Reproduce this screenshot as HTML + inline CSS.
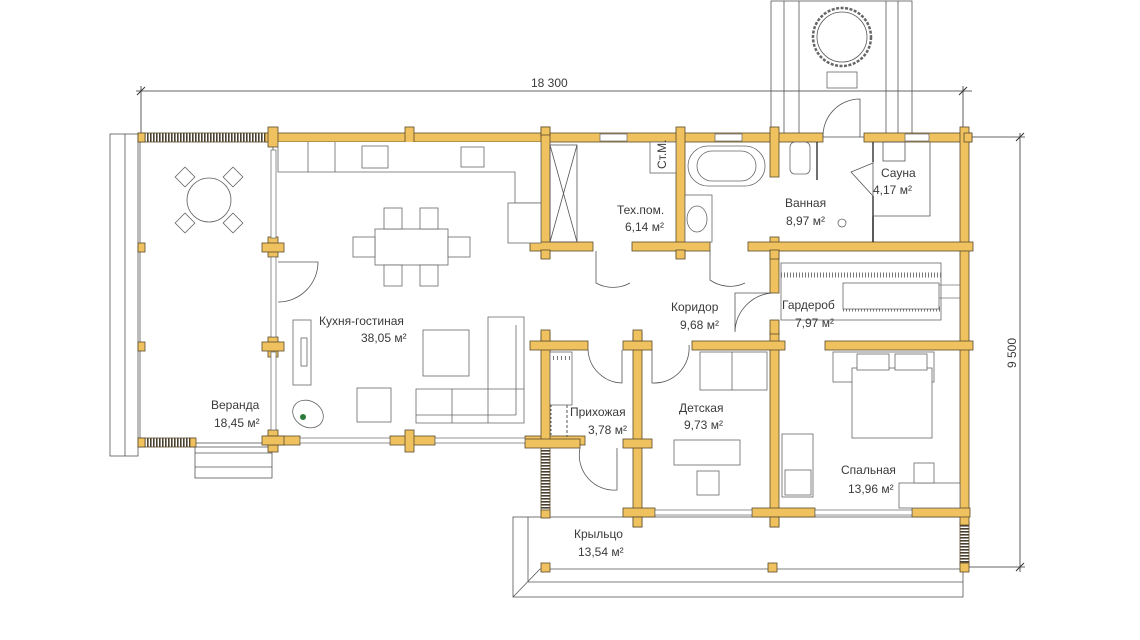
<!DOCTYPE html>
<html><head><meta charset="utf-8"><style>
html,body{margin:0;padding:0;background:#fff;}
svg{display:block;}
text{font-family:"Liberation Sans",sans-serif;fill:#3a3a3a;font-size:12px;}
.w{fill:#EFC25F;stroke:#5a4a2a;stroke-width:0.8;}
.l{fill:none;stroke:#555;stroke-width:0.8;}
.f{fill:#fff;stroke:#666;stroke-width:0.8;}
.win{fill:#fff;stroke:#666;stroke-width:0.7;}
</style></head><body>
<svg width="1140" height="640" viewBox="0 0 1140 640" xmlns="http://www.w3.org/2000/svg">
<defs>
<pattern id="rail" width="3" height="10" patternUnits="userSpaceOnUse"><rect width="3" height="10" fill="#fff"/><rect width="1.6" height="10" fill="#4a4030"/></pattern>
<pattern id="railv" width="10" height="3" patternUnits="userSpaceOnUse"><rect width="10" height="3" fill="#fff"/><rect width="10" height="1.6" fill="#4a4030"/></pattern>
</defs>

<!-- dimensions -->
<line x1="136" y1="91" x2="972" y2="91" stroke="#333" stroke-width="0.8"/>
<line x1="141" y1="86" x2="141" y2="137" stroke="#333" stroke-width="0.8"/>
<line x1="963" y1="86" x2="963" y2="130" stroke="#333" stroke-width="0.8"/>
<line x1="137" y1="95" x2="145" y2="87" stroke="#333"/>
<line x1="959" y1="95" x2="967" y2="87" stroke="#333"/>
<text x="531" y="87" font-size="12">18 300</text>
<line x1="1020" y1="133" x2="1020" y2="572" stroke="#333" stroke-width="0.8"/>
<line x1="968" y1="137" x2="1025" y2="137" stroke="#333" stroke-width="0.8"/>
<line x1="968" y1="567" x2="1025" y2="567" stroke="#333" stroke-width="0.8"/>
<line x1="1016" y1="141" x2="1024" y2="133" stroke="#333"/>
<line x1="1016" y1="571" x2="1024" y2="563" stroke="#333"/>
<text x="0" y="0" font-size="12" transform="translate(1016,368) rotate(-90)">9 500</text>

<!-- sauna outside deck -->
<rect x="771" y="1" width="141" height="136" class="l"/>
<line x1="784" y1="1" x2="784" y2="137" class="l"/>
<line x1="799" y1="1" x2="799" y2="137" class="l"/>
<line x1="886" y1="1" x2="886" y2="137" class="l"/>
<line x1="898" y1="1" x2="898" y2="137" class="l"/>
<circle cx="842" cy="37" r="29" fill="#fff" stroke="#666" stroke-width="2.5" stroke-dasharray="3 1.5"/>
<circle cx="842" cy="37" r="25" class="l"/>
<rect x="827" y="72" width="30" height="16" class="f"/>

<!-- veranda -->
<rect x="110" y="134" width="28" height="322" class="l"/>
<line x1="125" y1="134" x2="125" y2="456" class="l"/>
<rect x="140" y="137" width="133" height="306" class="l"/>
<rect x="138" y="133" width="130" height="9" fill="url(#rail)" stroke="#5a4a2a" stroke-width="0.8"/>
<rect x="138" y="133" width="7" height="9" class="w"/>
<rect x="138" y="438" width="57" height="9" fill="url(#rail)" stroke="#5a4a2a" stroke-width="0.8"/>
<rect x="138" y="438" width="7" height="9" class="w"/>
<rect x="190" y="438" width="6" height="9" class="w"/>
<rect x="138" y="243" width="7" height="9" class="w"/>
<rect x="138" y="342" width="7" height="9" class="w"/>
<rect x="195" y="447" width="77" height="31" class="l"/>
<line x1="195" y1="453" x2="272" y2="453" class="l"/>
<line x1="195" y1="467" x2="272" y2="467" class="l"/>
<g>
<rect x="178" y="170" width="14" height="14" transform="rotate(45 185 177)" class="f"/>
<rect x="226" y="170" width="14" height="14" transform="rotate(45 233 177)" class="f"/>
<rect x="178" y="216" width="14" height="14" transform="rotate(45 185 223)" class="f"/>
<rect x="226" y="216" width="14" height="14" transform="rotate(45 233 223)" class="f"/>
</g>
<circle cx="209" cy="200" r="22" class="f"/>

<!-- porch -->
<rect x="513" y="517" width="450" height="80" class="l"/>
<line x1="528" y1="517" x2="528" y2="582" class="l"/>
<line x1="528" y1="582" x2="963" y2="582" class="l"/>
<line x1="540" y1="569" x2="963" y2="569" class="l"/>
<line x1="513" y1="597" x2="540" y2="569" class="l"/>

<!-- railings -->
<rect x="541" y="447" width="9" height="68" fill="url(#railv)" stroke="#5a4a2a" stroke-width="0.8"/>
<rect x="960" y="522" width="9" height="44" fill="url(#railv)" stroke="#5a4a2a" stroke-width="0.8"/>
<rect x="541" y="510" width="9" height="8" class="w"/>
<rect x="541" y="563" width="9" height="9" class="w"/>
<rect x="768" y="563" width="9" height="9" class="w"/>
<rect x="960" y="563" width="9" height="9" class="w"/>

<!-- walls -->
<g class="w">
<rect x="265" y="133" width="558" height="9"/>
<rect x="864" y="133" width="108" height="9"/>
<rect x="268" y="127" width="10" height="20"/>
<rect x="268" y="237" width="10" height="20"/>
<rect x="268" y="337" width="10" height="20"/>
<rect x="268" y="430" width="10" height="22"/>
<rect x="265" y="436" width="35" height="9"/>
<rect x="390" y="436" width="45" height="9"/>
<rect x="525" y="436" width="60" height="9"/>
<rect x="541" y="127" width="9" height="131"/>
<rect x="676" y="127" width="9" height="131"/>
<rect x="770" y="127" width="9" height="50"/>
<rect x="960" y="127" width="9" height="398"/>
<rect x="770" y="237" width="9" height="56"/>
<rect x="770" y="332" width="9" height="195"/>
<rect x="541" y="333" width="9" height="114"/>
<rect x="633" y="333" width="9" height="194"/>
<rect x="530" y="242" width="63" height="9"/>
<rect x="632" y="242" width="78" height="9"/>
<rect x="748" y="242" width="225" height="9"/>
<rect x="530" y="341" width="58" height="9"/>
<rect x="623" y="341" width="29" height="9"/>
<rect x="692" y="341" width="93" height="9"/>
<rect x="825" y="341" width="148" height="9"/>
<rect x="525" y="439" width="55" height="9"/>
<rect x="623" y="439" width="29" height="9"/>
<rect x="623" y="508" width="32" height="9"/>
<rect x="752" y="508" width="63" height="9"/>
<rect x="912" y="508" width="58" height="9"/>
<rect x="405" y="127" width="9" height="28"/>
<rect x="405" y="430" width="9" height="22"/>
<rect x="262" y="243" width="22" height="9"/>
<rect x="262" y="342" width="22" height="9"/>
<rect x="262" y="436" width="22" height="9"/>
<rect x="541" y="250" width="9" height="9"/>
<rect x="676" y="250" width="9" height="9"/>
<rect x="770" y="250" width="9" height="9"/>
<rect x="770" y="320" width="9" height="14"/>
<rect x="541" y="330" width="9" height="11"/>
<rect x="633" y="330" width="9" height="11"/>
<rect x="770" y="517" width="9" height="10"/>
<rect x="633" y="517" width="9" height="10"/>
<rect x="964" y="133" width="8" height="9"/>
<rect x="541" y="127" width="9" height="8"/>
</g>
<g class="win">
<rect x="600" y="134" width="27" height="7"/>
<rect x="715" y="134" width="27" height="7"/>
<rect x="905" y="134" width="24" height="7"/>
<rect x="271" y="150" width="5" height="88"/>
<rect x="271" y="257" width="5" height="80"/>
<rect x="271" y="352" width="5" height="78"/>
<rect x="300" y="438" width="90" height="5"/>
<rect x="435" y="438" width="90" height="5"/>
<rect x="655" y="510" width="97" height="5"/>
<rect x="815" y="510" width="97" height="5"/>
</g>
<!-- sauna partition -->
<line x1="873" y1="142" x2="873" y2="162" stroke="#222" stroke-width="1.5"/>
<line x1="873" y1="196" x2="873" y2="242" stroke="#222" stroke-width="1.5"/>
<path d="M873 163 L851 172 L873 196" class="l"/>
<path d="M873 142 L873 216 L930 216 L930 142" class="l"/>
<rect x="883" y="142" width="22" height="19" class="l"/>

<!-- doors -->
<g class="l">
<path d="M278 262 L318 262 A40 40 0 0 1 278 302"/>
<path d="M596 251 L596 283 A35 35 0 0 0 630 283"/>
<path d="M710 251 L710 280 A35 35 0 0 0 745 283"/>
<path d="M823 137 A37 37 0 0 1 860 99 L860 137"/>
<path d="M772 293 L735 293 L735 332 A40 40 0 0 1 772 293"/>
<path d="M588 350 A35 35 0 0 0 622 383 L622 350"/>
<path d="M652 350 L652 383 A35 35 0 0 0 689 345"/>
<path d="M580 448 A35 35 0 0 0 617 490 L617 448"/>
</g>

<!-- kitchen furniture -->
<g class="f">
<path d="M278 142 L278 172 L515 172 L515 203 L541 203 L541 142"/>
<line x1="308" y1="142" x2="308" y2="172"/>
<line x1="335" y1="142" x2="335" y2="172"/>
<rect x="362" y="146" width="26" height="22"/>
<rect x="461" y="147" width="23" height="20"/>
<rect x="508" y="203" width="33" height="40"/>
<rect x="375" y="229" width="73" height="36"/>
<rect x="384" y="208" width="18" height="21"/>
<rect x="420" y="208" width="18" height="21"/>
<rect x="384" y="265" width="18" height="21"/>
<rect x="420" y="265" width="18" height="21"/>
<rect x="353" y="237" width="22" height="20"/>
<rect x="448" y="237" width="22" height="20"/>
<rect x="293" y="320" width="18" height="65"/>
<rect x="301" y="338" width="6" height="28"/>
<rect x="423" y="330" width="46" height="46"/>
<path d="M488 317 L524 317 L524 423 L416 423 L416 389 L488 389 Z"/>
<line x1="488" y1="389" x2="524" y2="389"/>
<line x1="452" y1="389" x2="452" y2="423"/>
<line x1="488" y1="389" x2="488" y2="423"/>
<line x1="416" y1="415" x2="516" y2="415"/>
<line x1="516" y1="325" x2="516" y2="415"/>
<rect x="357" y="388" width="34" height="34"/>
<ellipse cx="308" cy="414" rx="16" ry="13" transform="rotate(30 308 414)"/>
</g>
<rect x="550" y="145" width="27" height="97" class="l"/>
<path d="M550 145 L577 242 M577 145 L550 242" class="l"/>
<circle cx="303" cy="417" r="3" fill="#2a7a3a"/>

<!-- bath fixtures -->
<g class="f">
<rect x="650" y="142" width="26" height="31"/>
<rect x="688" y="146" width="77" height="40" rx="20"/>
<rect x="697" y="151" width="59" height="30" rx="15"/>
<rect x="685" y="195" width="27" height="47"/>
<ellipse cx="697" cy="219" rx="10" ry="13"/>
<rect x="790" y="142" width="20" height="32" rx="5"/>
<circle cx="842" cy="223" r="4"/>
<rect x="781" y="263" width="160" height="57"/>
</g>
<line x1="817" y1="142" x2="817" y2="180" stroke="#222" stroke-width="1.3"/>
<text x="0" y="0" font-size="7" transform="translate(666,169) rotate(-90)">Ст.М.</text>
<line x1="781" y1="275" x2="941" y2="275" stroke="#777" stroke-width="5" stroke-dasharray="1 2"/>
<line x1="843" y1="309" x2="941" y2="309" stroke="#777" stroke-width="5" stroke-dasharray="1 2"/>
<line x1="935" y1="285" x2="960" y2="285" stroke="#777" stroke-width="0.7"/>
<line x1="935" y1="298" x2="960" y2="298" stroke="#777" stroke-width="0.7"/>
<rect x="843" y="283" width="96" height="26" fill="#fff" stroke="#666" stroke-width="0.8"/>

<rect x="550" y="352" width="22" height="53" class="f"/>
<line x1="553" y1="358" x2="570" y2="358" stroke="#777" stroke-width="4" stroke-dasharray="1 3"/>
<line x1="551" y1="405" x2="551" y2="437" stroke="#555" stroke-dasharray="2 2"/>
<line x1="567" y1="405" x2="567" y2="437" stroke="#555" stroke-dasharray="3 2"/>

<g class="f">
<rect x="700" y="352" width="67" height="38"/>
<line x1="732" y1="352" x2="732" y2="390"/>
<rect x="674" y="440" width="66" height="25"/>
<rect x="697" y="471" width="22" height="24"/>
<rect x="833" y="352" width="101" height="30"/>
<rect x="852" y="368" width="80" height="70"/>
<rect x="857" y="354" width="32" height="16"/>
<rect x="895" y="354" width="32" height="16"/>
<rect x="782" y="434" width="31" height="63"/>
<rect x="785" y="470" width="26" height="25"/>
<rect x="899" y="483" width="61" height="25"/>
<rect x="914" y="463" width="20" height="20"/>
</g>

<text x="319" y="325">Кухня-гостиная</text>
<text x="361" y="342">38,05 м²</text>
<text x="211" y="409">Веранда</text>
<text x="214" y="427">18,45 м²</text>
<text x="617" y="214">Тех.пом.</text>
<text x="625" y="231">6,14 м²</text>
<text x="785" y="207">Ванная</text>
<text x="786" y="225">8,97 м²</text>
<text x="881" y="177">Сауна</text>
<text x="873" y="194">4,17 м²</text>
<text x="671" y="311">Коридор</text>
<text x="680" y="329">9,68 м²</text>
<text x="782" y="309">Гардероб</text>
<text x="795" y="327">7,97 м²</text>
<text x="570" y="416">Прихожая</text>
<text x="588" y="434">3,78 м²</text>
<text x="679" y="412">Детская</text>
<text x="684" y="429">9,73 м²</text>
<text x="841" y="474">Спальная</text>
<text x="848" y="493">13,96 м²</text>
<text x="574" y="538">Крыльцо</text>
<text x="578" y="556">13,54 м²</text>
</svg>
</body></html>
